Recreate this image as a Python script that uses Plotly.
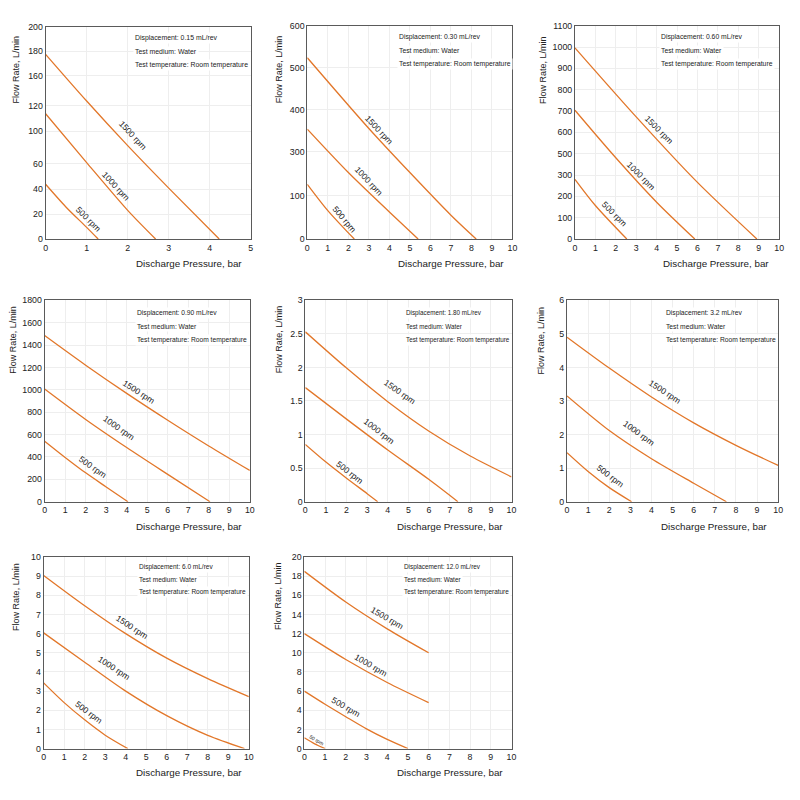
import plotly.graph_objects as go

# ---------------- data ----------------
# Chart 1: 0.15 mL/rev  (y in the chart's plotted scale)
C1_P_1500 = [0, 1, 2, 3, 4.23]
C1_Q_1500 = [174, 130, 88, 48, 0]
C1_P_1000 = [0, 1, 2, 2.68]
C1_Q_1000 = [118, 72, 27, 0]
C1_P_500 = [0, 0.5, 1, 1.28]
C1_Q_500 = [51.6, 30, 11, 0]
C1_YTICKVALS = [0, 23.2, 46.9, 70.8, 101.7, 125.8, 153.6, 176.8, 200]
C1_YTICKTEXT = ["0", "20", "40", "60", "100", "120", "160", "180", "200"]

# Chart 2: 0.30 mL/rev
C2_P_1500 = [0, 3, 5, 7, 8.23]
C2_Q_1500 = [510, 311, 187, 67, 0]
C2_P_1000 = [0, 2, 4, 5.4]
C2_Q_1000 = [309, 187, 76, 0]
C2_P_500 = [0, 1, 2.29]
C2_Q_500 = [154, 80, 0]
C2_YTICKVALS = [0, 122, 245, 364.3, 482.6, 600]
C2_YTICKTEXT = ["0", "100", "300", "400", "500", "600"]

# Chart 3: 0.60 mL/rev
C3_P_1500 = [0, 3, 6, 8.91]
C3_Q_1500 = [986, 630, 292, 0]
C3_P_1000 = [0, 2, 4, 5.87]
C3_Q_1000 = [664, 419, 190, 0]
C3_P_500 = [0, 1, 2.54]
C3_Q_500 = [308, 173, 0]
C3_YTICKVALS = [0, 110, 220, 330, 440, 550, 660, 770, 880, 990, 1100]
C3_YTICKTEXT = ["0", "100", "200", "300", "500", "600", "700", "800", "900", "1000", "1100"]

# Chart 4: 0.90 mL/rev
C4_P_1500 = [0, 2, 4, 6, 8, 10]
C4_Q_1500 = [1485, 1220, 968, 728, 498, 279]
C4_P_1000 = [0, 2, 4, 6, 8.06]
C4_Q_1000 = [1007, 735, 484, 244, 0]
C4_P_500 = [0, 1, 2, 3, 4.06]
C4_Q_500 = [541, 396, 258, 132, 0]

# Chart 5: 1.80 mL/rev
C5_P_1500 = [0, 2, 4, 6, 8, 10]
C5_Q_1500 = [2.53, 1.99, 1.49, 1.05, 0.68, 0.37]
C5_P_1000 = [0, 2, 4, 6, 7.4]
C5_Q_1000 = [1.70, 1.23, 0.77, 0.33, 0]
C5_P_500 = [0, 1, 2, 3, 3.51]
C5_Q_500 = [0.853, 0.59, 0.35, 0.12, 0]

# Chart 6: 3.2 mL/rev
C6_P_1500 = [0, 2, 4, 6, 8, 10]
C6_Q_1500 = [4.90, 3.98, 3.12, 2.35, 1.68, 1.08]
C6_P_1000 = [0, 2, 4, 6, 7.55]
C6_Q_1000 = [3.15, 2.12, 1.28, 0.55, 0]
C6_P_500 = [0, 1, 2, 3.06]
C6_Q_500 = [1.46, 0.90, 0.42, 0]

# Chart 7: 6.0 mL/rev
C7_P_1500 = [0, 2, 4, 6, 8, 10]
C7_Q_1500 = [9.04, 7.46, 6.0, 4.72, 3.65, 2.71]
C7_P_1000 = [0, 2, 4, 6, 8, 9.79]
C7_Q_1000 = [6.04, 4.51, 3.0, 1.72, 0.69, 0]
C7_P_500 = [0, 1, 2, 3, 4.1]
C7_Q_500 = [3.43, 2.40, 1.50, 0.70, 0]

# Chart 8: 12.0 mL/rev
C8_P_1500 = [0, 2, 4, 6]
C8_Q_1500 = [18.5, 15.3, 12.5, 10.0]
C8_P_1000 = [0, 2, 4, 6]
C8_Q_1000 = [12.0, 9.3, 6.9, 4.8]
C8_P_500 = [0, 1, 2, 3, 4, 5]
C8_Q_500 = [6.0, 4.63, 3.33, 2.06, 0.96, 0]
C8_P_50 = [0, 0.5, 1.0]
C8_Q_50 = [1.13, 0.5, 0]

DISPLACEMENTS = ["0.15 mL/rev", "0.30 mL/rev", "0.60 mL/rev", "0.90 mL/rev",
                 "1.80 mL/rev", "3.2 mL/rev", "6.0 mL/rev", "12.0 mL/rev"]
SPEED_LABELS = ["1500 rpm", "1000 rpm", "500 rpm", "50 rpm"]

# ---------------- layout helpers ----------------
ORANGE = "#E2772A"
FONT = "Liberation Sans, Arial, sans-serif"
TXT = "#222222"
W = H = 800

# plot-area pixel boxes (left, right, top, bottom)
boxes = [
    (44, 251, 22, 237), (308, 515, 21, 237), (578, 784, 21, 237),
    (43, 250, 299, 503), (306, 514, 299, 503), (570, 783, 299, 503),
    (42, 249, 559, 753), (305, 514, 559, 753),
]
xranges = [[0, 5]] + [[0, 10]] * 7
yranges = [[0, 200], [0, 600], [0, 1100], [0, 1800], [0, 3], [0, 6], [0, 10], [0, 20]]
ytick_specs = [
    (C1_YTICKVALS, C1_YTICKTEXT), (C2_YTICKVALS, C2_YTICKTEXT), (C3_YTICKVALS, C3_YTICKTEXT),
    (None, None, 200), (None, None, 0.5), (None, None, 1), (None, None, 1), (None, None, 2),
]
curves = [
    [(C1_P_1500, C1_Q_1500), (C1_P_1000, C1_Q_1000), (C1_P_500, C1_Q_500)],
    [(C2_P_1500, C2_Q_1500), (C2_P_1000, C2_Q_1000), (C2_P_500, C2_Q_500)],
    [(C3_P_1500, C3_Q_1500), (C3_P_1000, C3_Q_1000), (C3_P_500, C3_Q_500)],
    [(C4_P_1500, C4_Q_1500), (C4_P_1000, C4_Q_1000), (C4_P_500, C4_Q_500)],
    [(C5_P_1500, C5_Q_1500), (C5_P_1000, C5_Q_1000), (C5_P_500, C5_Q_500)],
    [(C6_P_1500, C6_Q_1500), (C6_P_1000, C6_Q_1000), (C6_P_500, C6_Q_500)],
    [(C7_P_1500, C7_Q_1500), (C7_P_1000, C7_Q_1000), (C7_P_500, C7_Q_500)],
    [(C8_P_1500, C8_Q_1500), (C8_P_1000, C8_Q_1000), (C8_P_500, C8_Q_500), (C8_P_50, C8_Q_50)],
]
# curve label placements (x, y, angle) per chart in data units
label_pos = [
    [(2.12, 98, 47), (1.71, 50, 47), (1.04, 19, 45)],
    [(3.5, 307, 47), (3.0, 164, 47), (1.8, 57, 50)],
    [(4.13, 563, 45), (3.24, 325, 45), (1.94, 130, 45)],
    [(4.6, 983, 33), (3.63, 660, 35), (2.34, 308, 35)],
    [(4.6, 1.64, 35), (3.56, 1.05, 38), (2.12, 0.44, 38)],
    [(4.66, 3.28, 33), (3.4, 2.05, 36), (2.06, 0.78, 37)],
    [(4.3, 6.35, 33), (3.43, 4.2, 33), (2.17, 1.89, 37)],
    [(4.0, 13.6, 30), (3.2, 8.75, 30), (2.0, 4.3, 30), (0.6, 0.93, 30)],
]
# info text: left position (fraction of plot width), line centres (px below plot top), font size
info_left = [0.424, 0.436, 0.414, 0.44, 0.48, 0.46, 0.457, 0.47]
info_rows = [[11, 25, 39]] * 3 + [[12.7, 27, 40.3]] * 3 + [[10.3, 22.7, 35]] * 2
info_size = [6.9, 6.8, 6.8, 6.7, 6.3, 6.7, 6.5, 6.4]
xtitle_pos = [(189, 262), (453, 262), (720, 262), (189, 528), (452, 528), (718, 528), (189, 777), (452, 777)]
ytitle_pos = [(14, 65.5), (279, 65.5), (545, 65.5), (11, 339), (279, 339), (544, 339.5), (14, 599.5), (278, 599)]

fig = go.Figure()
layout = dict(
    width=W, height=H, margin=dict(l=0, r=0, t=0, b=0),
    paper_bgcolor="white", plot_bgcolor="white", showlegend=False,
    font=dict(family=FONT, color=TXT, size=9),
)
annotations = []

for i in range(8):
    n = i + 1
    xa = "xaxis" if n == 1 else f"xaxis{n}"
    ya = "yaxis" if n == 1 else f"yaxis{n}"
    xr = "x" if n == 1 else f"x{n}"
    yr = "y" if n == 1 else f"y{n}"
    l, r, t, b = boxes[i]
    layout[xa] = dict(
        domain=[l / W, r / W], anchor=yr, range=xranges[i], dtick=1, tick0=0,
        showline=True, mirror=True, linecolor="#5a5a5a", linewidth=1,
        showgrid=True, gridcolor="#eeeeee", zeroline=False, ticks="",
        tickfont=dict(size=8.8, family=FONT, color=TXT), fixedrange=True,
    )
    ys = ytick_specs[i]
    yax = dict(
        domain=[1 - b / H, 1 - t / H], anchor=xr, range=yranges[i],
        showline=True, mirror=True, linecolor="#5a5a5a", linewidth=1,
        showgrid=True, gridcolor="#eeeeee", zeroline=False, ticks="",
        tickfont=dict(size=8.8, family=FONT, color=TXT), fixedrange=True,
    )
    if ys[0] is not None:
        yax.update(tickmode="array", tickvals=ys[0], ticktext=ys[1])
    else:
        yax.update(dtick=ys[2], tick0=0)
    layout[ya] = yax

    for k, (px, qy) in enumerate(curves[i]):
        fig.add_trace(go.Scatter(
            x=px, y=qy, mode="lines", xaxis=xr, yaxis=yr,
            line=dict(color=ORANGE, width=1.3, shape="spline", smoothing=0.8),
            hoverinfo="skip",
        ))
        lx, ly, ang = label_pos[i][k]
        annotations.append(dict(
            x=lx, y=ly, xref=xr, yref=yr, text=SPEED_LABELS[k], showarrow=False,
            xanchor="center", yanchor="middle", textangle=ang,
            font=dict(size=8.5 if k < 3 else 5, family=FONT, color=TXT),
        ))

    info = [f"Displacement: {DISPLACEMENTS[i]}", "Test medium: Water",
            "Test temperature: Room temperature"]
    for j, line in enumerate(info):
        annotations.append(dict(
            x=info_left[i], y=1 - info_rows[i][j] / (b - t),
            xref=f"{xr} domain", yref=f"{yr} domain",
            text=line, showarrow=False, xanchor="left", yanchor="middle",
            font=dict(size=info_size[i], family=FONT, color=TXT), bgcolor="white",
        ))
    xt = xtitle_pos[i]
    annotations.append(dict(
        x=xt[0] / W, y=1 - xt[1] / H, xref="paper", yref="paper",
        xanchor="center", yanchor="middle",
        text="Discharge Pressure, bar", showarrow=False,
        font=dict(size=9.8, family=FONT, color=TXT),
    ))
    yt = ytitle_pos[i]
    annotations.append(dict(
        x=yt[0] / W, y=1 - yt[1] / H, xref="paper", yref="paper",
        xanchor="center", yanchor="middle",
        text="Flow Rate, L/min", showarrow=False, textangle=-90,
        font=dict(size=9, family=FONT, color=TXT),
    ))

layout["annotations"] = annotations
fig.update_layout(**layout)
fig.write_html("out.html")
